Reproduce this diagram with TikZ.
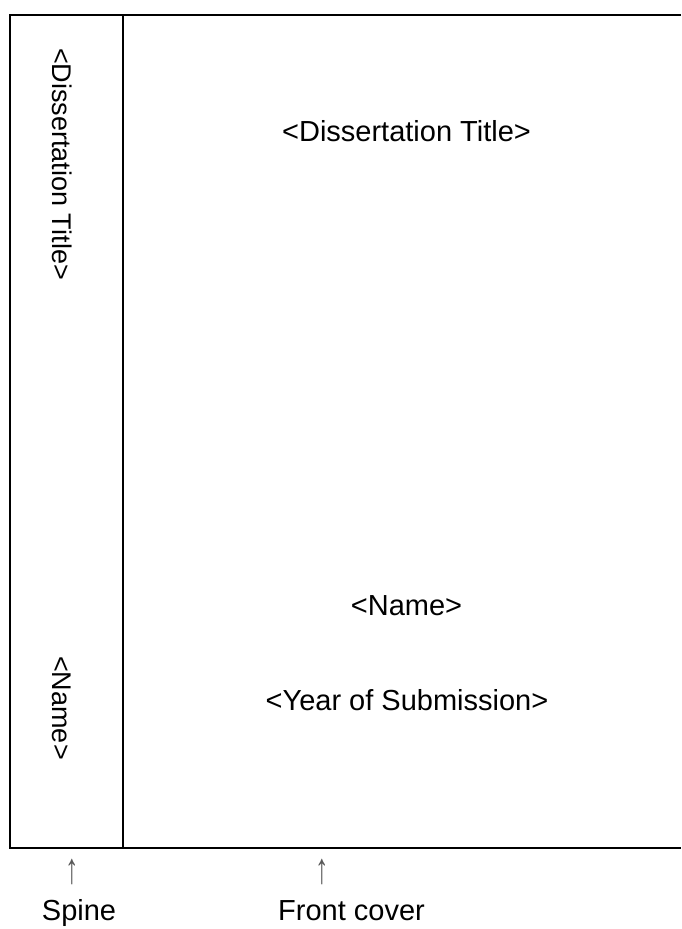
\documentclass[tikz,border=0pt]{standalone}
\usepackage{fontspec}
\setmainfont{Liberation Sans}
\begin{document}
\begin{tikzpicture}[x=1pt,y=-1pt,
  lbl/.style={font=\fontsize{29}{34}\selectfont, inner sep=0pt, anchor=base},
  rlbl/.style={font=\fontsize{27}{32}\selectfont, inner sep=0pt, anchor=base, rotate=-90},
  arr/.style={font=\fontsize{27}{32}\selectfont, inner sep=0pt, text=black!65},
  frame/.style={line width=2pt}]
\useasboundingbox (0,0) rectangle (681,929);
\coordinate (tr) at (681,14.5);
\coordinate (tl) at (10,14.5);
\coordinate (bl) at (10,847.7);
\coordinate (br) at (681,847.7);
\coordinate (st) at (123,14.5);
\coordinate (sb) at (123,847.7);
\draw[frame] (tr) -- (tl) -- (bl) -- (br);
\draw[frame] (st) -- (sb);
\node[lbl] (title) at (406.5,141) {<Dissertation Title>};
\node[lbl] (name) at (406.5,615) {<Name>};
\node[lbl] (year) at (407,710) {<Year of Submission>};
\node[rlbl] (stitle) at (52,164) {<Dissertation Title>};
\node[rlbl] (sname) at (52,708) {<Name>};
\node[arr] (a1) at (72,871.5) {\scalebox{1}[1.6]{↑}};
\node[arr] (a2) at (322,871.5) {\scalebox{1}[1.6]{↑}};
\node[lbl] (spine) at (79,920) {Spine};
\node[lbl, anchor=base west] (front) at (278,920) {Front cover};
\end{tikzpicture}
\end{document}
